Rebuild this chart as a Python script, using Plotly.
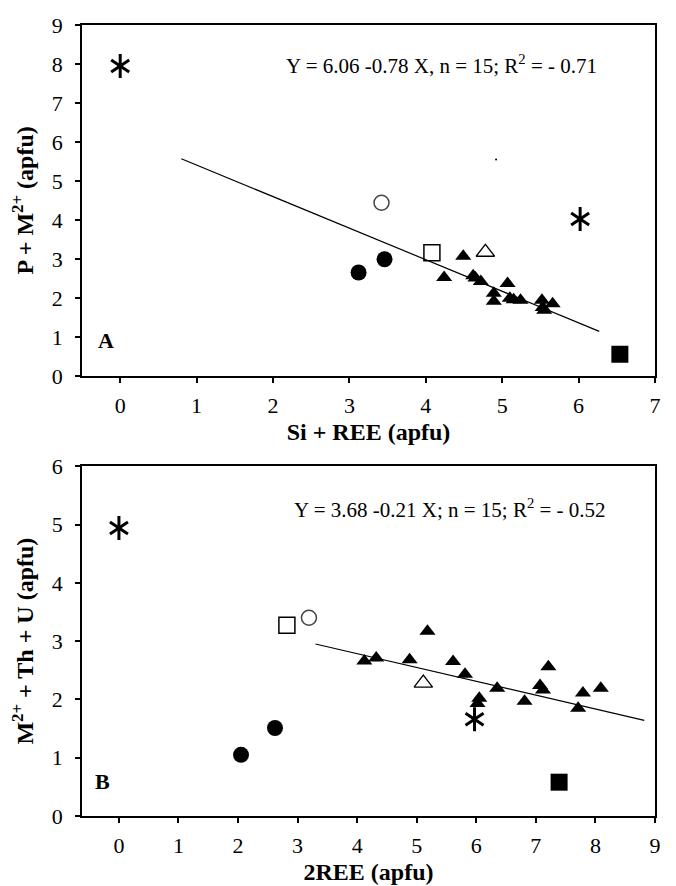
import plotly.graph_objects as go

# ---------------- Panel A data ----------------
a_tri_x = [4.24, 4.49, 4.62, 4.65, 4.72, 4.89, 4.89, 5.07, 5.10, 5.15, 5.24, 5.52, 5.53, 5.55, 5.66]
a_tri_y = [2.52, 3.07, 2.57, 2.51, 2.42, 2.12, 1.91, 2.37, 1.99, 1.95, 1.94, 1.94, 1.75, 1.68, 1.85]
a_otri_x = [4.78]
a_otri_y = [3.17]
a_circ_x = [3.12, 3.46]
a_circ_y = [2.65, 2.99]
a_ocirc_x = [3.42]
a_ocirc_y = [4.44]
a_osq_x = [4.08]
a_osq_y = [3.16]
a_sq_x = [6.54]
a_sq_y = [0.55]
a_ast_x = [0.0, 6.02]
a_ast_y = [7.95, 4.02]
a_speck_x = [4.92]
a_speck_y = [5.55]
a_line_x = [0.80, 6.27]
a_line_y = [5.57, 1.14]
a_eq = "Y = 6.06 -0.78 X, n = 15; R<sup>2</sup> = - 0.71"

# ---------------- Panel B data ----------------
b_tri_x = [4.12, 4.32, 4.88, 5.18, 5.61, 5.81, 6.05, 6.02, 6.35, 6.81, 7.07, 7.12, 7.21, 7.79, 7.71, 8.09]
b_tri_y = [2.66, 2.71, 2.68, 3.17, 2.65, 2.43, 2.02, 1.93, 2.19, 1.97, 2.24, 2.16, 2.56, 2.11, 1.85, 2.19]
b_otri_x = [5.11]
b_otri_y = [2.28]
b_circ_x = [2.05, 2.62]
b_circ_y = [1.05, 1.51]
b_ocirc_x = [3.19]
b_ocirc_y = [3.40]
b_osq_x = [2.82]
b_osq_y = [3.27]
b_sq_x = [7.39]
b_sq_y = [0.58]
b_ast_x = [0.0, 5.97]
b_ast_y = [4.94, 1.66]
b_line_x = [3.30, 8.82]
b_line_y = [2.95, 1.64]
b_eq = "Y = 3.68 -0.21 X; n = 15; R<sup>2</sup> = - 0.52"

FONT = "Liberation Serif"

fig = go.Figure()


def add_panel(xa, ya, tri, otri, circ, ocirc, osq, sq, ast, line):
    fig.add_trace(go.Scatter(x=line[0], y=line[1], mode="lines",
                             line=dict(color="black", width=1.2),
                             xaxis=xa, yaxis=ya, showlegend=False))
    specs = [
        (tri, dict(symbol="triangle-up", size=14, color="black")),
        (otri, dict(symbol="triangle-up-open", size=16, color="black", line=dict(width=1.3))),
        (circ, dict(symbol="circle", size=16, color="black")),
        (ocirc, dict(symbol="circle-open", size=15, color="#444", line=dict(width=1.5))),
        (osq, dict(symbol="square-open", size=16, color="black", line=dict(width=1.5))),
        (sq, dict(symbol="square", size=17, color="black")),
        # six-armed asterisk built from two "Y" glyphs
        (ast, dict(symbol="y-up-open", size=15, color="black", line=dict(width=3, color="black"))),
        (ast, dict(symbol="y-down-open", size=15, color="black", line=dict(width=3, color="black"))),
    ]
    for (xs, ys), mk in specs:
        fig.add_trace(go.Scatter(x=xs, y=ys, mode="markers", marker=mk,
                                 xaxis=xa, yaxis=ya, showlegend=False))


add_panel("x", "y", (a_tri_x, a_tri_y), (a_otri_x, a_otri_y), (a_circ_x, a_circ_y),
          (a_ocirc_x, a_ocirc_y), (a_osq_x, a_osq_y), (a_sq_x, a_sq_y),
          (a_ast_x, a_ast_y), (a_line_x, a_line_y))
fig.add_trace(go.Scatter(x=a_speck_x, y=a_speck_y, mode="markers",
                         marker=dict(symbol="circle", size=2, color="black"),
                         xaxis="x", yaxis="y", showlegend=False))
add_panel("x2", "y2", (b_tri_x, b_tri_y), (b_otri_x, b_otri_y), (b_circ_x, b_circ_y),
          (b_ocirc_x, b_ocirc_y), (b_osq_x, b_osq_y), (b_sq_x, b_sq_y),
          (b_ast_x, b_ast_y), (b_line_x, b_line_y))

tickfont = dict(family=FONT, size=22, color="black")
titlefont = dict(family=FONT, size=24, color="black")
common = dict(showgrid=False, zeroline=False, showline=True, linecolor="black",
              linewidth=1.5, mirror=True, ticks="outside", ticklen=5, tickwidth=1.5,
              tickcolor="black", tickfont=tickfont)
xcommon = dict(common, ticklabelstandoff=4)
ycommon = dict(common, ticklabelstandoff=8)

fig.update_layout(
    width=668, height=878,
    margin=dict(l=74, r=21, t=5, b=68),
    paper_bgcolor="white", plot_bgcolor="white",
    xaxis=dict(domain=[0, 1], anchor="y", range=[-0.5, 7], tickvals=list(range(0, 8)),
               title=dict(text="<b>Si + REE (apfu)</b>", font=titlefont, standoff=6), **xcommon),
    yaxis=dict(domain=[0.5565, 1], anchor="x", range=[0, 9], tickvals=list(range(0, 10)),
               title=dict(text="<b>P + M<sup>2+</sup> (apfu)</b>", font=titlefont, standoff=12), **ycommon),
    xaxis2=dict(domain=[0, 1], anchor="y2", range=[-0.62, 9], tickvals=list(range(0, 10)),
                title=dict(text="<b>2REE (apfu)</b>", font=titlefont, standoff=6), **xcommon),
    yaxis2=dict(domain=[0, 0.4422], anchor="x2", range=[0, 6], tickvals=list(range(0, 7)),
                title=dict(text="<b>M<sup>2+</sup> + Th + U (apfu)</b>", font=titlefont, standoff=12), **ycommon),
    annotations=[
        dict(x=4.21, y=7.98, xref="x", yref="y", text=a_eq, showarrow=False,
             font=dict(family=FONT, size=21, color="black")),
        dict(x=-0.19, y=0.9, xref="x", yref="y", text="<b>A</b>", showarrow=False,
             font=dict(family=FONT, size=22, color="black")),
        dict(x=5.55, y=5.28, xref="x2", yref="y2", text=b_eq, showarrow=False,
             font=dict(family=FONT, size=21, color="black")),
        dict(x=-0.28, y=0.59, xref="x2", yref="y2", text="<b>B</b>", showarrow=False,
             font=dict(family=FONT, size=22, color="black")),
    ],
)

fig.write_html("out.html")
